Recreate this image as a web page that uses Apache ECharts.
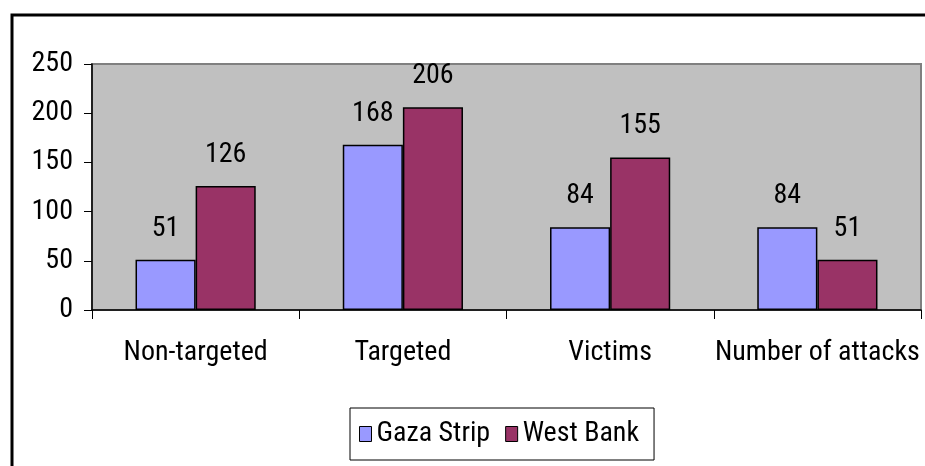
<!DOCTYPE html>
<html><head><meta charset="utf-8">
<script src="https://cdn.jsdelivr.net/npm/echarts@6/dist/echarts.min.js"></script>
<style>html,body{margin:0;padding:0;background:#fff}#c{width:925px;height:466px}</style>
</head><body><div id="c"></div>
<script>
const categories = ['Non-targeted', 'Targeted', 'Victims', 'Number of attacks'];
const gazaStrip = [51, 168, 84, 84];
const westBank = [126, 206, 155, 51];
const seriesNames = ['Gaza Strip', 'West Bank'];
const yTicks = [0, 50, 100, 150, 200, 250];

const FONT = '"Roboto Condensed", "Liberation Sans", Arial, sans-serif';
const FS = 28;
const chart = echarts.init(document.getElementById('c'), null, {renderer: 'canvas'});
const labelCfg = {show: true, position: 'top', distance: 17, color: '#000', fontFamily: FONT, fontSize: FS};
chart.setOption({
  animation: false,
  backgroundColor: '#fff',
  graphic: [{
    type: 'rect', shape: {x: 12, y: 15, width: 1000, height: 1000},
    style: {fill: 'none', stroke: '#000', lineWidth: 3}, z: 100
  }],
  grid: {left: 92, right: 4, top: 64, bottom: 156, show: true, backgroundColor: '#C0C0C0', borderColor: '#808080', borderWidth: 2},
  legend: {
    left: 350, top: 408,
    data: seriesNames,
    icon: 'rect',
    itemWidth: 12, itemHeight: 15, itemGap: 15,
    padding: [12, 15, 12, 9],
    borderColor: '#000', borderWidth: 1, backgroundColor: '#fff',
    textStyle: {fontFamily: FONT, fontSize: FS, color: '#000'},
    itemStyle: {borderColor: '#000', borderWidth: 1}
  },
  xAxis: {
    type: 'category', data: categories,
    axisLine: {lineStyle: {color: '#000', width: 1.5}},
    axisTick: {show: true, length: 9, lineStyle: {color: '#000'}},
    axisLabel: {fontFamily: FONT, fontSize: FS, color: '#000', margin: 29, interval: 0}
  },
  yAxis: {
    type: 'value', min: 0, max: 250, interval: 50,
    axisLine: {show: true, lineStyle: {color: '#000', width: 1.5}},
    axisTick: {show: true, length: 8, lineStyle: {color: '#000'}},
    splitLine: {show: false},
    axisLabel: {fontFamily: FONT, fontSize: FS, color: '#000', margin: 19,
      formatter: v => yTicks.includes(v) ? String(v) : ''}
  },
  series: [
    {name: seriesNames[0], type: 'bar', data: gazaStrip, barGap: '0%', barCategoryGap: '42%',
     itemStyle: {color: '#9999FF', borderColor: '#000', borderWidth: 1.5}, label: labelCfg},
    {name: seriesNames[1], type: 'bar', data: westBank, barGap: '0%', barCategoryGap: '42%',
     itemStyle: {color: '#993366', borderColor: '#000', borderWidth: 1.5}, label: labelCfg}
  ]
});
</script></body></html>
